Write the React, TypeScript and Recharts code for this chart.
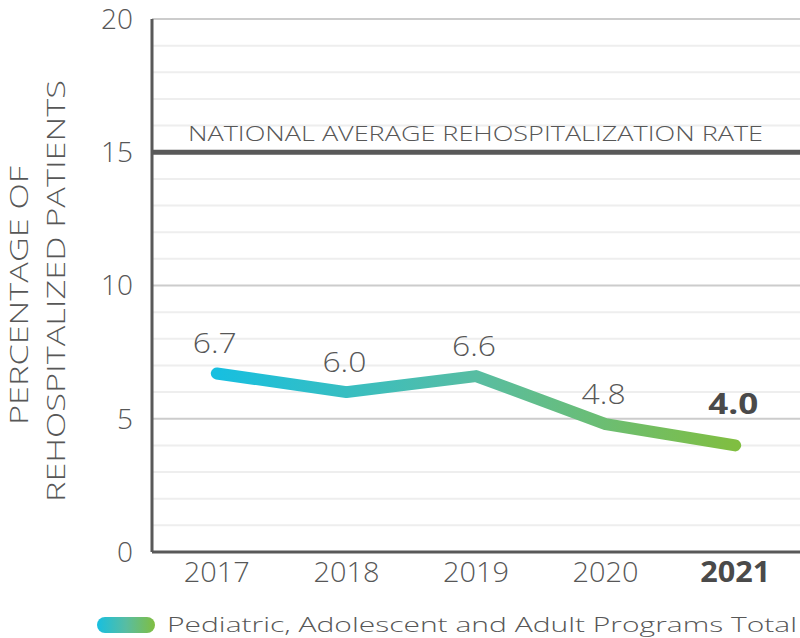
import React from 'react';
import { LineChart, Line, XAxis, YAxis, ReferenceLine, LabelList, Legend } from 'recharts';

const years = ['2017', '2018', '2019', '2020', '2021'];
const rates = [6.7, 6.0, 6.6, 4.8, 4.0];
const yTicks = [0, 5, 10, 15, 20];
const majorGrid = [5, 10, 20];
const minorGrid = [1, 2, 3, 4, 6, 7, 8, 9, 11, 12, 13, 14, 16, 17, 18, 19];
const nationalAverage = 15;
const highlightYear = '2021';
const seriesName = 'Pediatric, Adolescent and Adult Programs Total';
const refLabel = 'NATIONAL AVERAGE REHOSPITALIZATION RATE';
const yTitle = ['PERCENTAGE OF', 'REHOSPITALIZED PATIENTS'];

const data = years.map((y, i) => ({ year: y, rate: rates[i] }));

const FONT = "'Open Sans', sans-serif";
const TEXT = '#575757';
const DARK = '#595959';
const C1 = '#17BFE0';
const C2 = '#58BDA2';
const C3 = '#80BE41';

const XTick = (props: any) => {
  const { x, y, payload } = props;
  const bold = payload.value === highlightYear;
  return (
    <text x={x} y={y} dy={20} textAnchor="middle" fontFamily={FONT} fontSize={28}
      fontWeight={bold ? 700 : 300} fill={bold ? '#4a4a4a' : TEXT}
      textLength={bold ? 70 : 66} lengthAdjust="spacingAndGlyphs">
      {payload.value}
    </text>
  );
};

const PointLabel = (props: any) => {
  const { x, y, index, value } = props;
  const bold = years[index] === highlightYear;
  return (
    <text x={x - 2} y={y - (bold ? 31 : 20)} textAnchor="middle" fontFamily={FONT} fontSize={28}
      fontWeight={bold ? 700 : 300} fill={bold ? '#4a4a4a' : TEXT}
      textLength={bold ? 50 : 44} lengthAdjust="spacingAndGlyphs">
      {Number(value).toFixed(1)}
    </text>
  );
};

const YTitle = () => (
  <g fontFamily={FONT} fontSize={25} fontWeight={300} fill={TEXT}>
    <text transform="translate(28, 295.5) rotate(-90)" textAnchor="middle" textLength={259}
      lengthAdjust="spacingAndGlyphs">{yTitle[0]}</text>
    <text transform="translate(65, 291) rotate(-90)" textAnchor="middle" textLength={422}
      lengthAdjust="spacingAndGlyphs">{yTitle[1]}</text>
  </g>
);

const RefLabel = (props: any) => {
  const { viewBox } = props;
  return (
    <text x={viewBox.x + 36} y={viewBox.y - 11} fontFamily={FONT} fontSize={20} fontWeight={300}
      fill={TEXT} textLength={575} lengthAdjust="spacingAndGlyphs">
      {refLabel}
    </text>
  );
};

const LegendContent = () => (
  <svg width={800} height={46} style={{ display: 'block' }}>
    <defs>
      <linearGradient id="legendGrad" x1="0" y1="0" x2="1" y2="0">
        <stop offset="0%" stopColor={C1} />
        <stop offset="50%" stopColor={C2} />
        <stop offset="100%" stopColor={C3} />
      </linearGradient>
    </defs>
    <rect x={97} y={25} width={58} height={16} rx={8} fill="url(#legendGrad)" />
    <text x={167} y={40} fontFamily={FONT} fontSize={21} fontWeight={300} fill={TEXT}
      textLength={630} lengthAdjust="spacingAndGlyphs">
      {seriesName}
    </text>
  </svg>
);

export default function App() {
  return (
    <div style={{ position: 'absolute', left: 0, top: 0, width: 800, height: 638, background: '#fff' }}>
      <LineChart width={800} height={638} data={data} margin={{ top: 19, right: 0, bottom: 0, left: 0 }}>
        <defs>
          <linearGradient id="lineGrad" x1="0" y1="0" x2="1" y2="0">
            <stop offset="0%" stopColor={C1} />
            <stop offset="50%" stopColor={C2} />
            <stop offset="100%" stopColor={C3} />
          </linearGradient>
        </defs>
        {minorGrid.map((v) => (
          <ReferenceLine key={'m' + v} y={v} stroke="#eeeeee" strokeWidth={2} />
        ))}
        {majorGrid.map((v) => (
          <ReferenceLine key={'M' + v} y={v} stroke="#cccccc" strokeWidth={2} />
        ))}
        <ReferenceLine y={nationalAverage} stroke={DARK} strokeWidth={5} label={<RefLabel />} />
        <XAxis dataKey="year" scale="band" height={40} tickLine={false} tickSize={0} tickMargin={10}
          axisLine={{ stroke: DARK, strokeWidth: 3 }} tick={<XTick />} interval={0} />
        <YAxis width={152} domain={[0, 20]} ticks={yTicks} tickLine={false} tickSize={0} tickMargin={19}
          axisLine={{ stroke: DARK, strokeWidth: 3 }} interval={0}
          tick={{ fontFamily: FONT, fontSize: 28, fontWeight: 300, fill: TEXT }}
          label={{ content: <YTitle /> }} />
        <Legend verticalAlign="bottom" align="left" content={<LegendContent />}
          wrapperStyle={{ left: 0, width: 800 }} />
        <Line type="linear" dataKey="rate" name={seriesName} stroke="url(#lineGrad)" strokeWidth={12}
          strokeLinecap="round" strokeLinejoin="round" dot={false} activeDot={false} isAnimationActive={false}>
          <LabelList dataKey="rate" content={<PointLabel />} />
        </Line>
      </LineChart>
    </div>
  );
}
